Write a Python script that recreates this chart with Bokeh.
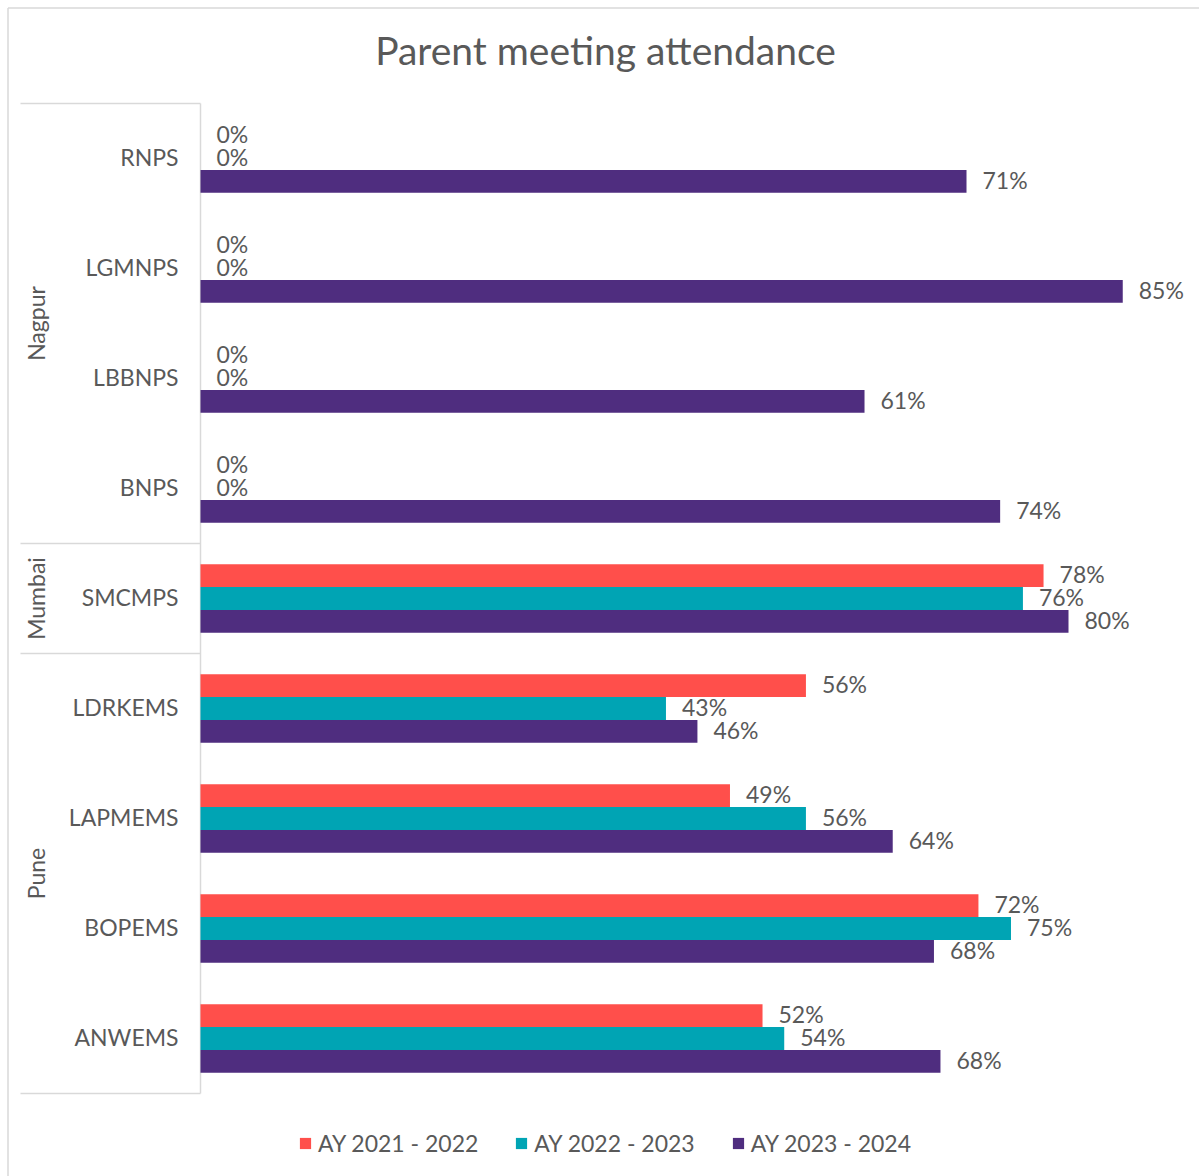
import math
from bokeh.plotting import figure
from bokeh.models import ColumnDataSource, Range1d, Legend, LegendItem
from bokeh.core.properties import value
from bokeh.embed import file_html
from bokeh.resources import INLINE

# ---------------- data ----------------
title = "Parent meeting attendance"
regions = ["Nagpur", "Mumbai", "Pune"]
schools = ["RNPS", "LGMNPS", "LBBNPS", "BNPS", "SMCMPS",
           "LDRKEMS", "LAPMEMS", "BOPEMS", "ANWEMS"]
school_region = ["Nagpur", "Nagpur", "Nagpur", "Nagpur", "Mumbai",
                 "Pune", "Pune", "Pune", "Pune"]
series = ["AY 2021 - 2022", "AY 2022 - 2023", "AY 2023 - 2024"]
ay_2021_2022 = [0.0, 0.0, 0.0, 0.0, 0.777, 0.558, 0.488, 0.717, 0.518]
ay_2022_2023 = [0.0, 0.0, 0.0, 0.0, 0.758, 0.429, 0.558, 0.747, 0.538]
ay_2023_2024 = [0.706, 0.850, 0.612, 0.737, 0.800, 0.458, 0.638, 0.676, 0.682]
colors = ["#FF4F4B", "#00A4B4", "#4F2D7F"]

# ---------------- layout ----------------
W, H = 1199, 1176
PX0 = 200      # pixel where value 0 sits
PPU = 1085     # pixels per unit value (1.0 = 100%)
ROW0 = 158     # pixel centre of first category
ROW = 110      # pixel height of a category band
BAR = 0.207    # bar thickness in category units
TDY = -1.5 / ROW   # small vertical nudge for text

def xd(px):
    return (px - PX0) / PPU

def yd(py):
    return (py - ROW0) / ROW

FONT = "Lato"
FS = "23px"
TXT = "#595959"
LINE = "#D9D9D9"

p = figure(width=W, height=H,
           x_range=Range1d(xd(0), xd(W)),
           y_range=Range1d(yd(H), yd(0)),
           output_backend="svg", toolbar_location=None,
           x_axis_location=None, y_axis_location=None,
           min_border=0)
p.grid.visible = False
p.outline_line_color = None
p.background_fill_color = "white"
p.border_fill_color = "white"

# chart border (top and left visible)
p.segment(x0=[xd(7.5), xd(7.5)], y0=[yd(7.5), yd(7.5)],
          x1=[xd(W), xd(7.5)], y1=[yd(7.5), yd(H)],
          line_color=LINE, line_width=1.5)

n = len(schools)
idx = list(range(n))

# category axis lines
bounds = [-0.5]
for i in range(1, n):
    if school_region[i] != school_region[i - 1]:
        bounds.append(i - 0.5)
bounds.append(n - 0.5)
p.segment(x0=[xd(20)] * len(bounds), y0=bounds, x1=[0] * len(bounds), y1=bounds,
          line_color=LINE, line_width=1.5)
p.segment(x0=[0], y0=[-0.5], x1=[0], y1=[n - 0.5], line_color=LINE, line_width=1.5)

# bars + data labels
all_vals = [ay_2021_2022, ay_2022_2023, ay_2023_2024]
items = []
for k, (name, vals, col) in enumerate(zip(series, all_vals, colors)):
    ys = [i + (k - 1) * BAR for i in idx]
    src = ColumnDataSource(dict(y=ys, ty=[y + TDY for y in ys], v=vals,
                                lx=[v + 16 / PPU for v in vals],
                                lab=[f"{round(v * 100)}%" for v in vals]))
    r = p.hbar(y="y", left=0, right="v", height=BAR, source=src,
               fill_color=col, line_color=None)
    p.text(x="lx", y="ty", text="lab", source=src, text_align="left",
           text_baseline="middle", text_font=value(FONT),
           text_font_size=FS, text_color=TXT)
    items.append(LegendItem(label=name, renderers=[r]))

# school labels
p.text(x=[xd(178)] * n, y=[i + TDY for i in idx], text=schools, text_align="right",
       text_baseline="middle", text_font=value(FONT),
       text_font_size=FS, text_color=TXT)

# region labels
rx, ry = [], []
for reg in regions:
    members = [i for i in idx if school_region[i] == reg]
    rx.append(xd(35))
    ry.append(sum(members) / len(members))
p.text(x=rx, y=ry, text=regions, angle=math.pi / 2, text_align="center",
       text_baseline="middle", text_font=value(FONT),
       text_font_size=FS, text_color=TXT)

# title
p.text(x=[xd(605)], y=[yd(49)], text=[title], text_align="center",
       text_baseline="middle", text_font=value(FONT),
       text_font_size="39px", text_color=TXT)

legend = Legend(items=items, orientation="horizontal",
                location=(298, 19), padding=0, margin=0,
                spacing=36, label_standoff=6,
                glyph_width=14, glyph_height=14, label_height=24,
                label_text_font=FONT, label_text_font_size=FS,
                label_text_color=TXT, border_line_color=None,
                background_fill_alpha=0)
p.add_layout(legend)

open("out.html", "w").write(file_html(p, INLINE))
